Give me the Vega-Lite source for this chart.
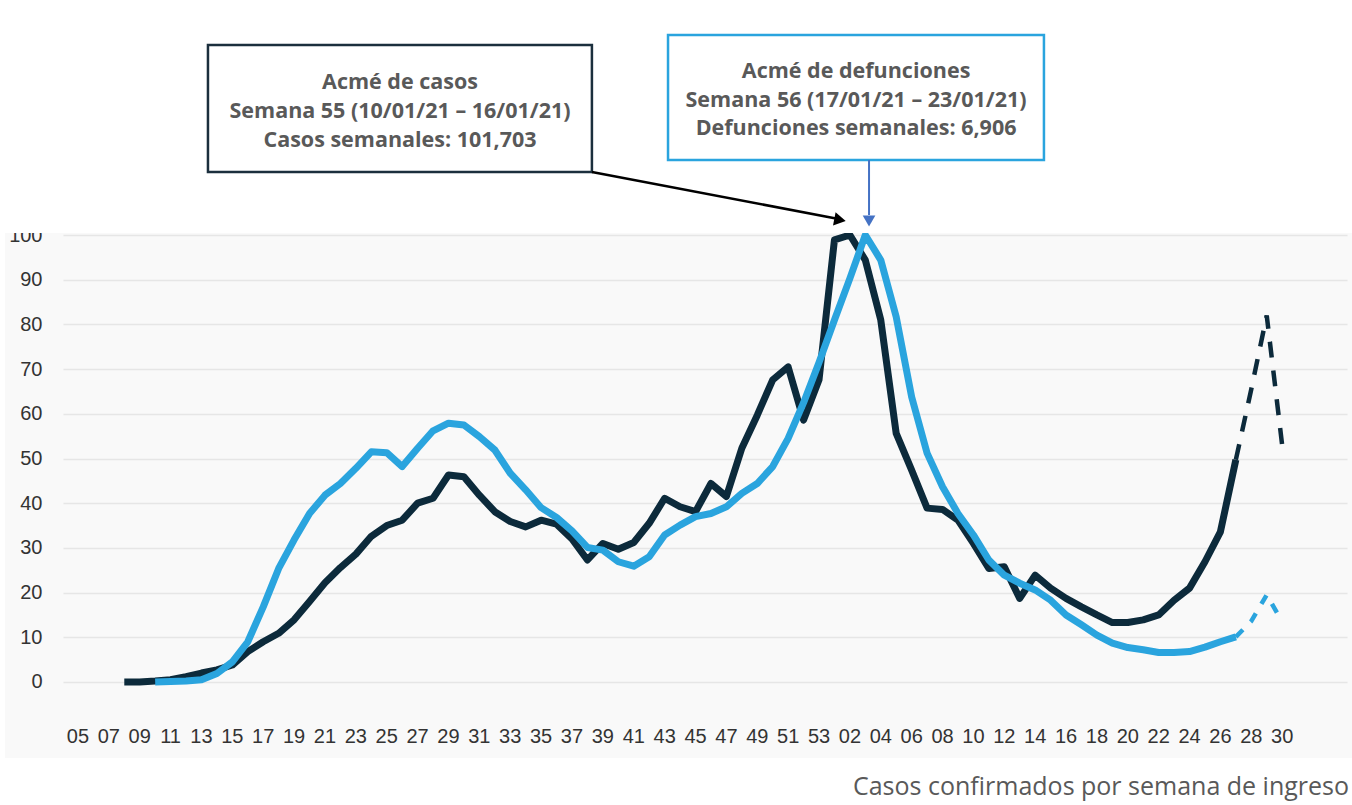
{
  "$schema": "https://vega.github.io/schema/vega-lite/v6.json",
  "autosize": "none",
  "width": 1284,
  "height": 489,
  "padding": {"left": 63, "top": 233, "right": 5, "bottom": 83},
  "background": "#f9f9f9",
  "config": {
    "view": {"stroke": null},
    "axisX": {"grid": false, "domain": false, "ticks": false, "labels": false},
    "axisY": {"grid": true, "gridColor": "#e6e6e6", "gridWidth": 1.5, "domain": false, "ticks": false, "labelFont": "Liberation Sans", "labelFontSize": 20, "labelColor": "#333333", "labelPadding": 21, "labelOverlap": false}
  },
  "data": {"values": [
    {"i":0,"semana":"05"},
    {"i":1,"semana":"06"},
    {"i":2,"semana":"07"},
    {"i":3,"semana":"08","casos":0},
    {"i":4,"semana":"09","casos":0},
    {"i":5,"semana":"10","casos":0.2,"defunciones":0},
    {"i":6,"semana":"11","casos":0.5,"defunciones":0.1},
    {"i":7,"semana":"12","casos":1.2,"defunciones":0.2},
    {"i":8,"semana":"13","casos":2.0,"defunciones":0.5},
    {"i":9,"semana":"14","casos":2.7,"defunciones":1.9},
    {"i":10,"semana":"15","casos":3.8,"defunciones":4.5},
    {"i":11,"semana":"16","casos":6.8,"defunciones":9.0},
    {"i":12,"semana":"17","casos":9.0,"defunciones":16.8},
    {"i":13,"semana":"18","casos":10.9,"defunciones":25.4},
    {"i":14,"semana":"19","casos":13.9,"defunciones":31.8},
    {"i":15,"semana":"20","casos":18.0,"defunciones":37.7},
    {"i":16,"semana":"21","casos":22.2,"defunciones":41.8},
    {"i":17,"semana":"22","casos":25.6,"defunciones":44.4},
    {"i":18,"semana":"23","casos":28.6,"defunciones":47.8},
    {"i":19,"semana":"24","casos":32.6,"defunciones":51.5},
    {"i":20,"semana":"25","casos":35.0,"defunciones":51.3},
    {"i":21,"semana":"26","casos":36.2,"defunciones":48.2},
    {"i":22,"semana":"27","casos":40.0,"defunciones":52.3},
    {"i":23,"semana":"28","casos":41.1,"defunciones":56.2},
    {"i":24,"semana":"29","casos":46.3,"defunciones":57.9},
    {"i":25,"semana":"30","casos":45.9,"defunciones":57.5},
    {"i":26,"semana":"31","casos":41.8,"defunciones":54.9},
    {"i":27,"semana":"32","casos":38.1,"defunciones":51.9},
    {"i":28,"semana":"33","casos":35.9,"defunciones":46.7},
    {"i":29,"semana":"34","casos":34.7,"defunciones":43.0},
    {"i":30,"semana":"35","casos":36.2,"defunciones":39.0},
    {"i":31,"semana":"36","casos":35.3,"defunciones":36.8},
    {"i":32,"semana":"37","casos":32.0,"defunciones":33.8},
    {"i":33,"semana":"38","casos":27.3,"defunciones":30.1},
    {"i":34,"semana":"39","casos":31.0,"defunciones":29.5},
    {"i":35,"semana":"40","casos":29.7,"defunciones":26.9},
    {"i":36,"semana":"41","casos":31.2,"defunciones":25.9},
    {"i":37,"semana":"42","casos":35.5,"defunciones":28.0},
    {"i":38,"semana":"43","casos":41.1,"defunciones":32.9},
    {"i":39,"semana":"44","casos":39.2,"defunciones":35.1},
    {"i":40,"semana":"45","casos":38.1,"defunciones":37.0},
    {"i":41,"semana":"46","casos":44.4,"defunciones":37.7},
    {"i":42,"semana":"47","casos":41.5,"defunciones":39.2},
    {"i":43,"semana":"48","casos":52.3,"defunciones":42.2},
    {"i":44,"semana":"49","casos":59.7,"defunciones":44.4},
    {"i":45,"semana":"50","casos":67.6,"defunciones":48.2},
    {"i":46,"semana":"51","casos":70.5,"defunciones":54.5},
    {"i":47,"semana":"52","casos":58.6,"defunciones":62.5},
    {"i":48,"semana":"53","casos":67.6,"defunciones":71.5},
    {"i":49,"semana":"01","casos":98.9,"defunciones":81.0},
    {"i":50,"semana":"02","casos":100,"defunciones":90.3},
    {"i":51,"semana":"03","casos":94.4,"defunciones":100},
    {"i":52,"semana":"04","casos":81.0,"defunciones":94.4},
    {"i":53,"semana":"05","casos":55.6,"defunciones":81.7},
    {"i":54,"semana":"06","casos":47.4,"defunciones":63.8},
    {"i":55,"semana":"07","casos":38.9,"defunciones":51.2},
    {"i":56,"semana":"08","casos":38.6,"defunciones":43.7},
    {"i":57,"semana":"09","casos":36.2,"defunciones":37.7},
    {"i":58,"semana":"10","casos":31.0,"defunciones":32.9},
    {"i":59,"semana":"11","casos":25.4,"defunciones":27.3},
    {"i":60,"semana":"12","casos":25.8,"defunciones":23.9},
    {"i":61,"semana":"13","casos":18.7,"defunciones":22.1},
    {"i":62,"semana":"14","casos":23.9,"defunciones":20.6},
    {"i":63,"semana":"15","casos":21.0,"defunciones":18.3},
    {"i":64,"semana":"16","casos":18.7,"defunciones":15.0},
    {"i":65,"semana":"17","casos":16.8,"defunciones":12.8},
    {"i":66,"semana":"18","casos":15.0,"defunciones":10.5},
    {"i":67,"semana":"19","casos":13.3,"defunciones":8.7},
    {"i":68,"semana":"20","casos":13.3,"defunciones":7.7},
    {"i":69,"semana":"21","casos":13.9,"defunciones":7.2},
    {"i":70,"semana":"22","casos":15.0,"defunciones":6.6},
    {"i":71,"semana":"23","casos":18.3,"defunciones":6.6},
    {"i":72,"semana":"24","casos":21.0,"defunciones":6.8},
    {"i":73,"semana":"25","casos":26.9,"defunciones":7.8},
    {"i":74,"semana":"26","casos":33.6,"defunciones":9.0},
    {"i":75,"semana":"27","casos":49.7,"defunciones":10.1,"casos_p":49.7,"defunciones_p":10.1},
    {"i":76,"semana":"28","casos_p":65.5,"defunciones_p":13.6},
    {"i":77,"semana":"29","casos_p":82.0,"defunciones_p":19.5},
    {"i":78,"semana":"30","casos_p":53.0,"defunciones_p":13.5}
  ]},
  "layer": [
    {
      "mark": {"type": "line", "color": "#0c2a3b", "strokeWidth": 7, "strokeJoin": "round"},
      "encoding": {
        "x": {"field": "i", "type": "quantitative", "scale": {"domain": [-0.97, 82.2], "nice": false, "zero": false}, "title": null},
        "y": {"field": "casos", "type": "quantitative", "scale": {"domain": [-8.95, 100.45], "nice": false, "zero": false}, "title": null,
          "axis": {"values": [0,10,20,30,40,50,60,70,80,90,100], "title": null}}
      }
    },
    {
      "mark": {"type": "line", "color": "#0c2a3b", "strokeWidth": 4.5, "strokeDash": [16, 13]},
      "encoding": {
        "x": {"field": "i", "type": "quantitative", "scale": {"domain": [-0.97, 82.2], "nice": false, "zero": false}, "title": null},
        "y": {"field": "casos_p", "type": "quantitative", "scale": {"domain": [-8.95, 100.45], "nice": false, "zero": false}, "title": null}
      }
    },
    {
      "mark": {"type": "line", "color": "#2aa4de", "strokeWidth": 7, "strokeJoin": "round"},
      "encoding": {
        "x": {"field": "i", "type": "quantitative", "scale": {"domain": [-0.97, 82.2], "nice": false, "zero": false}, "title": null},
        "y": {"field": "defunciones", "type": "quantitative", "scale": {"domain": [-8.95, 100.45], "nice": false, "zero": false}, "title": null}
      }
    },
    {
      "mark": {"type": "line", "color": "#2aa4de", "strokeWidth": 4.5, "strokeDash": [10, 11]},
      "encoding": {
        "x": {"field": "i", "type": "quantitative", "scale": {"domain": [-0.97, 82.2], "nice": false, "zero": false}, "title": null},
        "y": {"field": "defunciones_p", "type": "quantitative", "scale": {"domain": [-8.95, 100.45], "nice": false, "zero": false}, "title": null}
      }
    },
    {
      "transform": [{"filter": "datum.i % 2 == 0"}],
      "mark": {"type": "text", "font": "Liberation Sans", "fontSize": 20, "color": "#333333", "align": "center", "baseline": "alphabetic"},
      "encoding": {
        "x": {"field": "i", "type": "quantitative", "scale": {"domain": [-0.97, 82.2], "nice": false, "zero": false}, "title": null},
        "y": {"datum": -13.71, "type": "quantitative", "scale": {"domain": [-8.95, 100.45], "nice": false, "zero": false}, "title": null},
        "text": {"field": "semana"}
      }
    },
    {
      "data": {"values": [{}]},
      "mark": {"type": "rect", "fill": "#ffffff"},
      "encoding": {
        "x": {"datum": -6, "type": "quantitative", "scale": {"domain": [-0.97, 82.2], "nice": false, "zero": false}, "title": null}, "x2": {"datum": 84},
        "y": {"datum": 100.45, "type": "quantitative", "scale": {"domain": [-8.95, 100.45], "nice": false, "zero": false}, "title": null}, "y2": {"datum": 160}
      }
    },
    {
      "data": {"values": [{}]},
      "mark": {"type": "rect", "fill": "#ffffff"},
      "encoding": {
        "x": {"datum": -6, "type": "quantitative", "scale": {"domain": [-0.97, 82.2], "nice": false, "zero": false}, "title": null}, "x2": {"datum": 84},
        "y": {"datum": -17.0, "type": "quantitative", "scale": {"domain": [-8.95, 100.45], "nice": false, "zero": false}, "title": null}, "y2": {"datum": -32}
      }
    },
    {
      "data": {"values": [{}]},
      "mark": {"type": "rect", "fill": "#ffffff"},
      "encoding": {
        "x": {"datum": -6, "type": "quantitative", "scale": {"domain": [-0.97, 82.2], "nice": false, "zero": false}, "title": null}, "x2": {"datum": -4.73},
        "y": {"datum": -17.0, "type": "quantitative", "scale": {"domain": [-8.95, 100.45], "nice": false, "zero": false}, "title": null}, "y2": {"datum": 100.45}
      }
    },
    {
      "data": {"values": [{}]},
      "mark": {"type": "rect", "fill": "#ffffff", "stroke": "#1b2f3d", "strokeWidth": 2.5},
      "encoding": {
        "x": {"datum": 8.42, "type": "quantitative", "scale": {"domain": [-0.97, 82.2], "nice": false, "zero": false}, "title": null}, "x2": {"datum": 33.29},
        "y": {"datum": 142.51, "type": "quantitative", "scale": {"domain": [-8.95, 100.45], "nice": false, "zero": false}, "title": null}, "y2": {"datum": 114.10}
      }
    },
    {
      "data": {"values": [{}]},
      "mark": {"type": "rect", "fill": "#ffffff", "stroke": "#2aa4de", "strokeWidth": 2.5},
      "encoding": {
        "x": {"datum": 38.22, "type": "quantitative", "scale": {"domain": [-0.97, 82.2], "nice": false, "zero": false}, "title": null}, "x2": {"datum": 62.57},
        "y": {"datum": 144.75, "type": "quantitative", "scale": {"domain": [-8.95, 100.45], "nice": false, "zero": false}, "title": null}, "y2": {"datum": 116.78}
      }
    },
    {
      "data": {"values": [{}]},
      "mark": {"type": "text", "font": "Open Sans", "fontWeight": "bold", "fontSize": 21.5, "color": "#595959", "align": "center", "baseline": "alphabetic"},
      "encoding": {"x": {"datum": 20.86, "type": "quantitative", "scale": {"domain": [-0.97, 82.2], "nice": false, "zero": false}, "title": null}, "y": {"datum": 132.56, "type": "quantitative", "scale": {"domain": [-8.95, 100.45], "nice": false, "zero": false}, "title": null}, "text": {"value": "Acmé de casos"}}
    },
    {
      "data": {"values": [{}]},
      "mark": {"type": "text", "font": "Open Sans", "fontWeight": "bold", "fontSize": 21.5, "color": "#595959", "align": "center", "baseline": "alphabetic"},
      "encoding": {"x": {"datum": 20.86, "type": "quantitative", "scale": {"domain": [-0.97, 82.2], "nice": false, "zero": false}, "title": null}, "y": {"datum": 126.2, "type": "quantitative", "scale": {"domain": [-8.95, 100.45], "nice": false, "zero": false}, "title": null}, "text": {"value": "Semana 55 (10/01/21 – 16/01/21)"}}
    },
    {
      "data": {"values": [{}]},
      "mark": {"type": "text", "font": "Open Sans", "fontWeight": "bold", "fontSize": 21.5, "color": "#595959", "align": "center", "baseline": "alphabetic"},
      "encoding": {"x": {"datum": 20.86, "type": "quantitative", "scale": {"domain": [-0.97, 82.2], "nice": false, "zero": false}, "title": null}, "y": {"datum": 119.75, "type": "quantitative", "scale": {"domain": [-8.95, 100.45], "nice": false, "zero": false}, "title": null}, "text": {"value": "Casos semanales: 101,703"}}
    },
    {
      "data": {"values": [{}]},
      "mark": {"type": "text", "font": "Open Sans", "fontWeight": "bold", "fontSize": 21.5, "color": "#595959", "align": "center", "baseline": "alphabetic"},
      "encoding": {"x": {"datum": 50.40, "type": "quantitative", "scale": {"domain": [-0.97, 82.2], "nice": false, "zero": false}, "title": null}, "y": {"datum": 135.17, "type": "quantitative", "scale": {"domain": [-8.95, 100.45], "nice": false, "zero": false}, "title": null}, "text": {"value": "Acmé de defunciones"}}
    },
    {
      "data": {"values": [{}]},
      "mark": {"type": "text", "font": "Open Sans", "fontWeight": "bold", "fontSize": 21.5, "color": "#595959", "align": "center", "baseline": "alphabetic"},
      "encoding": {"x": {"datum": 50.40, "type": "quantitative", "scale": {"domain": [-0.97, 82.2], "nice": false, "zero": false}, "title": null}, "y": {"datum": 128.68, "type": "quantitative", "scale": {"domain": [-8.95, 100.45], "nice": false, "zero": false}, "title": null}, "text": {"value": "Semana 56 (17/01/21 – 23/01/21)"}}
    },
    {
      "data": {"values": [{}]},
      "mark": {"type": "text", "font": "Open Sans", "fontWeight": "bold", "fontSize": 21.5, "color": "#595959", "align": "center", "baseline": "alphabetic"},
      "encoding": {"x": {"datum": 50.40, "type": "quantitative", "scale": {"domain": [-0.97, 82.2], "nice": false, "zero": false}, "title": null}, "y": {"datum": 122.42, "type": "quantitative", "scale": {"domain": [-8.95, 100.45], "nice": false, "zero": false}, "title": null}, "text": {"value": "Defunciones semanales: 6,906"}}
    },
    {
      "data": {"values": [{}]},
      "mark": {"type": "rule", "color": "#000000", "strokeWidth": 2.5},
      "encoding": {
        "x": {"datum": 33.29, "type": "quantitative", "scale": {"domain": [-0.97, 82.2], "nice": false, "zero": false}, "title": null}, "x2": {"datum": 49.1},
        "y": {"datum": 114.10, "type": "quantitative", "scale": {"domain": [-8.95, 100.45], "nice": false, "zero": false}, "title": null}, "y2": {"datum": 103.70}
      }
    },
    {
      "data": {"values": [{}]},
      "mark": {"type": "point", "shape": "triangle-right", "angle": 11, "filled": true, "opacity": 1, "color": "#000000", "size": 180},
      "encoding": {"x": {"datum": 49.36, "type": "quantitative", "scale": {"domain": [-0.97, 82.2], "nice": false, "zero": false}, "title": null}, "y": {"datum": 103.36, "type": "quantitative", "scale": {"domain": [-8.95, 100.45], "nice": false, "zero": false}, "title": null}}
    },
    {
      "data": {"values": [{}]},
      "mark": {"type": "rule", "color": "#4472c4", "strokeWidth": 2},
      "encoding": {
        "x": {"datum": 51.24, "type": "quantitative", "scale": {"domain": [-0.97, 82.2], "nice": false, "zero": false}, "title": null},
        "y": {"datum": 116.78, "type": "quantitative", "scale": {"domain": [-8.95, 100.45], "nice": false, "zero": false}, "title": null}, "y2": {"datum": 104.48}
      }
    },
    {
      "data": {"values": [{}]},
      "mark": {"type": "point", "shape": "triangle-down", "filled": true, "opacity": 1, "color": "#4472c4", "size": 160},
      "encoding": {"x": {"datum": 51.24, "type": "quantitative", "scale": {"domain": [-0.97, 82.2], "nice": false, "zero": false}, "title": null}, "y": {"datum": 103.13, "type": "quantitative", "scale": {"domain": [-8.95, 100.45], "nice": false, "zero": false}, "title": null}}
    },
    {
      "data": {"values": [{}]},
      "mark": {"type": "text", "font": "Open Sans", "fontSize": 25, "color": "#595959", "align": "left", "baseline": "alphabetic"},
      "encoding": {"x": {"datum": 50.2, "type": "quantitative", "scale": {"domain": [-0.97, 82.2], "nice": false, "zero": false}, "title": null}, "y": {"datum": -25.28, "type": "quantitative", "scale": {"domain": [-8.95, 100.45], "nice": false, "zero": false}, "title": null}, "text": {"value": "Casos confirmados por semana de ingreso"}}
    }
  ]
}
